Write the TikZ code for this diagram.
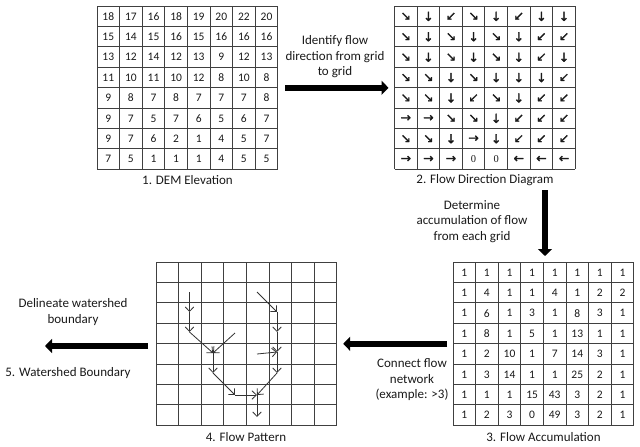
\documentclass[tikz,border=0pt]{standalone}
\usepackage{fontspec}
\setmainfont{Carlito}
\newfontfamily\arrowfont{DejaVu Sans}[FakeBold=1.5]
\newfontfamily\zerofont{Liberation Serif}
\usetikzlibrary{arrows.meta}
\newcommand\dirSE{{\arrowfont ↘}}
\newcommand\dirSW{{\arrowfont ↙}}
\newcommand\dirD{{\arrowfont ↓}}
\newcommand\dirR{{\arrowfont →}}
\newcommand\dirL{{\arrowfont ←}}
\newcommand\dirZ{{\zerofont\fontsize{10.5}{12}\selectfont 0}}
\tikzset{
  gridline/.style={draw=black!75, line width=0.9pt},
  gridframe/.style={draw=none, minimum width=180.8pt, minimum height=163.2pt, inner sep=0pt, anchor=north west},
  num/.style={font=\fontsize{11.5}{13}\selectfont, text=black!90, inner sep=0pt},
  dirnum/.style={font=\fontsize{12.5}{14}\selectfont, text=black!90, inner sep=0pt},
  caption/.style={font=\fontsize{13}{15}\selectfont, text=black!90, inner sep=0pt},
  steptext/.style={font=\fontsize{13}{15.5}\selectfont, align=center, text=black!90, inner sep=0pt},
  bigarrow/.style={line width=5.5pt, -{Triangle[length=7pt,width=14pt]}},
  flowarrow/.style={draw=black!80, line width=0.8pt, -{Straight Barb[length=4.5pt,width=8.5pt]}},
  pics/cells/.style={code={
    \foreach \i in {0,...,8} {
      \draw[gridline] (\i*22.6,0) -- (\i*22.6,163.2);
      \draw[gridline] (0,\i*20.4) -- (180.8,\i*20.4);
    }
  }}
}
\begin{document}
\begin{tikzpicture}[x=1pt,y=-1pt]
\useasboundingbox (0,0) rectangle (640,447);

% grid frames
\node[gridframe] (g1) at (97,6) {};
\node[gridframe] (g2) at (394.5,6) {};
\node[gridframe] (g3) at (453,262) {};
\node[gridframe] (g4) at (156,262) {};
\pic at (97,6) {cells};
\pic at (394.5,6) {cells};
\pic at (453,262) {cells};
\pic at (156,262) {cells};

% 1. DEM
\foreach \row [count=\r from 0] in {
  {18,17,16,18,19,20,22,20},
  {15,14,15,16,15,16,16,16},
  {13,12,14,12,13,9,12,13},
  {11,10,11,10,12,8,10,8},
  {9,8,7,8,7,7,7,8},
  {9,7,5,7,6,5,6,7},
  {9,7,6,2,1,4,5,7},
  {7,5,1,1,1,4,5,5}} {
  \foreach \v [count=\c from 0] in \row {
    \node[num] (dem-\r-\c) at (108.3+22.6*\c, 16.4+20.4*\r) {\v};
  }
}

% 2. Flow direction
\foreach \row [count=\r from 0] in {
  {SE,D,SW,SE,D,SW,D,D},
  {SE,D,SE,D,SE,D,SW,SW},
  {SE,D,SE,D,SE,D,SW,D},
  {SE,SE,D,SE,D,D,D,SW},
  {SE,SE,D,SW,SE,D,SW,SW},
  {R,R,SE,SE,D,SW,SW,SW},
  {SE,SE,D,R,D,SW,SW,SW},
  {R,R,R,Z,Z,L,L,L}} {
  \foreach \v [count=\c from 0] in \row {
    \node[dirnum] (dir-\r-\c) at (405.8+22.6*\c, 16.4+20.4*\r) {\csname dir\v\endcsname};
  }
}

% 3. Flow accumulation
\foreach \row [count=\r from 0] in {
  {1,1,1,1,1,1,1,1},
  {1,4,1,1,4,1,2,2},
  {1,6,1,3,1,8,3,1},
  {1,8,1,5,1,13,1,1},
  {1,2,10,1,7,14,3,1},
  {1,3,14,1,1,25,2,1},
  {1,1,1,15,43,3,2,1},
  {1,2,3,0,49,3,2,1}} {
  \foreach \v [count=\c from 0] in \row {
    \node[num] (acc-\r-\c) at (464.3+22.6*\c, 272.4+20.4*\r) {\v};
  }
}

% 4. Flow pattern
\coordinate (pA) at (189.5,292);
\coordinate (pB) at (189.5,312);
\coordinate (pC) at (189.5,332);
\coordinate (pD) at (213,353);
\coordinate (pE) at (235,333);
\coordinate (pF) at (213,373);
\coordinate (pG) at (235,395);
\coordinate (pH) at (257,395);
\coordinate (pI) at (257,417);
\coordinate (pJ) at (257,292);
\coordinate (pK) at (277,312);
\coordinate (pL) at (277,332);
\coordinate (pM) at (277,352);
\coordinate (pN) at (257,354);
\coordinate (pO) at (277,373);
\draw[flowarrow] (pA) -- (pB);
\draw[flowarrow] (pB) -- (pC);
\draw[flowarrow] (pC) -- (pD);
\draw[flowarrow] (pE) -- (pD);
\draw[flowarrow] (pD) -- (pF);
\draw[flowarrow] (pF) -- (pG);
\draw[flowarrow] (pG) -- (pH);
\draw[flowarrow] (pH) -- (pI);
\draw[flowarrow] (pJ) -- (pK);
\draw[flowarrow] (pK) -- (pL);
\draw[flowarrow] (pL) -- (pM);
\draw[flowarrow] (pN) -- (pM);
\draw[flowarrow] (pM) -- (pO);
\draw[flowarrow] (pO) -- (pH);

% captions
\node[caption] (cap1) at (187.5,180) {1. DEM Elevation};
\node[caption] (cap2) at (485,180) {2. Flow Direction Diagram};
\node[caption] (cap3) at (543.5,437) {3. Flow Accumulation};
\node[caption] (cap4) at (246,437) {4. Flow Pattern};
\node[caption] (cap5) at (68,373) {5. Watershed Boundary};

% step texts
\node[steptext] (t12) at (335,57) {Identify flow\\direction from grid\\to grid};
\node[steptext] (t23) at (472,221.5) {Determine\\accumulation of flow\\from each grid};
\node[steptext] (t34) at (412,380) {Connect flow\\network\\(example: >3)};
\node[steptext] (t45) at (73,312) {Delineate watershed\\boundary};

% big arrows
\coordinate (a23s) at (545,190);
\coordinate (a23e) at (545,256);
\coordinate (a45e) at (45,346);
\draw[bigarrow, shorten <=7pt, shorten >=6pt] (g1.east) -- (g2.west);
\draw[bigarrow] (a23s) -- (a23e);
\draw[bigarrow, shorten <=6pt, shorten >=6pt] (g3.west) -- (g4.east);
\draw[bigarrow, shorten <=8pt] (g4.west |- a45e) -- (a45e);
\end{tikzpicture}
\end{document}
